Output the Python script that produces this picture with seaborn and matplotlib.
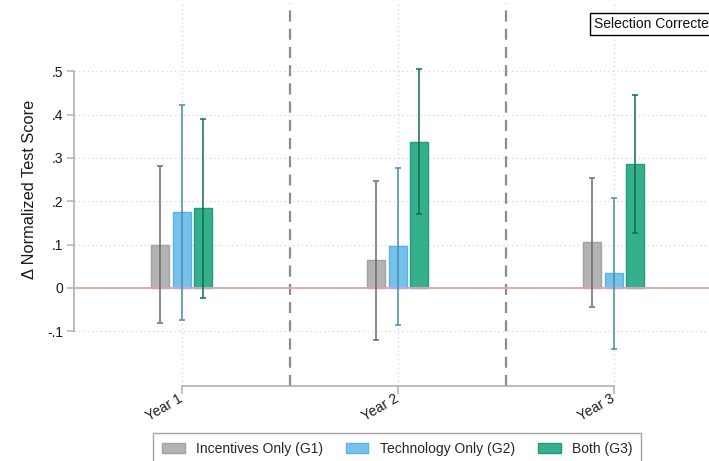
import matplotlib
matplotlib.use("Agg")
import matplotlib.pyplot as plt
import pandas as pd
import seaborn as sns

# Treatment effects on normalized test scores, by year and treatment arm
years = ["Year 1", "Year 2", "Year 3"]
groups = ["Incentives Only (G1)", "Technology Only (G2)", "Both (G3)"]

g1_effect = [0.100, 0.064, 0.105]
g2_effect = [0.175, 0.097, 0.034]
g3_effect = [0.184, 0.338, 0.287]

g1_ci_low = [-0.080, -0.121, -0.043]
g1_ci_high = [0.282, 0.247, 0.253]
g2_ci_low = [-0.075, -0.085, -0.141]
g2_ci_high = [0.422, 0.277, 0.207]
g3_ci_low = [-0.024, 0.170, 0.127]
g3_ci_high = [0.390, 0.505, 0.446]

y_ticks = [-0.1, 0.0, 0.1, 0.2, 0.3, 0.4, 0.5]
y_tick_labels = ["-.1", "0", ".1", ".2", ".3", ".4", ".5"]

bar_fill = ["#b3b3b3", "#76c2ec", "#35b08c"]
bar_edge = ["#a3a3a3", "#5cb3e3", "#229c78"]
err_color = ["#6a6a6a", "#4a8bb0", "#0e6e4d"]

rows = []
for grp, eff, lo, hi in zip(
    groups,
    [g1_effect, g2_effect, g3_effect],
    [g1_ci_low, g2_ci_low, g3_ci_low],
    [g1_ci_high, g2_ci_high, g3_ci_high],
):
    for yr, e, l, h in zip(years, eff, lo, hi):
        rows.append({"year": yr, "group": grp, "effect": e, "lo": l, "hi": h})
df = pd.DataFrame(rows)

sns.set_theme(style="white")
plt.rcParams["font.family"] = ["Liberation Sans", "DejaVu Sans"]

W, H = 709, 461
fig = plt.figure(figsize=(W / 100, H / 100), dpi=100)
left_px, right_px = 73.7, 721.7
top_px, bottom_px = 3.0, 385.7
ax = fig.add_axes([left_px / W, 1 - bottom_px / H,
                   (right_px - left_px) / W, (bottom_px - top_px) / H])

sns.barplot(
    data=df, x="year", y="effect", hue="group",
    order=years, hue_order=groups, palette=bar_fill,
    width=0.3, gap=0.15, saturation=1, errorbar=None,
    linewidth=1.0, ax=ax, zorder=3,
)

# edge colours and confidence intervals per treatment arm
bar_containers = list(ax.containers)
for i, cont in enumerate(bar_containers):
    xs, mids, lows, highs = [], [], [], []
    sub = df[df["group"] == groups[i]].set_index("year").loc[years]
    for patch, (_, r) in zip(cont.patches, sub.iterrows()):
        patch.set_edgecolor(bar_edge[i])
        xs.append(patch.get_x() + patch.get_width() / 2)
        mids.append(r["effect"])
        lows.append(r["effect"] - r["lo"])
        highs.append(r["hi"] - r["effect"])
    ax.errorbar(xs, mids, yerr=[lows, highs], fmt="none",
                ecolor=err_color[i], elinewidth=1.1, capsize=2.3,
                capthick=1.1, zorder=5)

ax.set_xlim(-0.5, 2.5)
ax.set_ylim(-0.2255, 0.6577)

# zero reference line and year separators
ax.axhline(0, color="#dca2c8", lw=1.3, zorder=4)
for xsep in (0.5, 1.5):
    ax.axvline(xsep, color="#8c8c8c", lw=1.6, ls=(0, (5, 3.2)), zorder=2)

# dotted grid
for yt in y_ticks:
    ax.axhline(yt, color="#d4d4d4", lw=0.9, ls=(0, (1, 2.5)), zorder=1)
for xt in range(len(years)):
    ax.axvline(xt, color="#d4d4d4", lw=0.9, ls=(0, (1, 2.5)), zorder=1)

ax.set_yticks(y_ticks)
ax.set_yticklabels(y_tick_labels, fontsize=10, color="#1a1a1a")
ax.set_xticks(range(len(years)))
ax.set_xticklabels(years, fontsize=10, color="#1a1a1a", rotation=30,
                   ha="right", va="center", rotation_mode="anchor")

for s in ("top", "right"):
    ax.spines[s].set_visible(False)
for s in ("left", "bottom"):
    ax.spines[s].set_color("#b0b0b0")
    ax.spines[s].set_linewidth(1.2)
ax.spines["left"].set_bounds(-0.1, 0.5)
ax.spines["bottom"].set_bounds(0, 2)

ax.tick_params(axis="y", direction="out", length=4.8, width=1.1,
               color="#b0b0b0", pad=2.5, left=True)
ax.tick_params(axis="x", direction="out", length=6, width=1.1,
               color="#b0b0b0", pad=2.5, bottom=True)

ax.set_xlabel("")
ax.set_ylabel("\u0394 Normalized Test Score", fontsize=11.8, color="#1a1a1a")
ax.yaxis.set_label_coords(-0.056, 0.512)

# legend along the bottom
handles, labels = ax.get_legend_handles_labels()
ax.get_legend().remove()
for h, ec in zip(handles, bar_edge):
    h.set_edgecolor(ec)
leg = fig.legend(
    handles, labels, ncol=3, loc="upper left",
    bbox_to_anchor=(153.3 / W, 1 - 433.3 / H), bbox_transform=fig.transFigure,
    fontsize=10, frameon=True, fancybox=False, edgecolor="#8f8f8f",
    handlelength=1.65, handleheight=0.75, handletextpad=0.8,
    columnspacing=1.65, borderpad=0.6, borderaxespad=0,
)
leg.get_frame().set_linewidth(1.0)

# boxed annotation in the upper right
fig.text(594 / W, 1 - 24.3 / H, "Selection Corrected", fontsize=10,
         ha="left", va="center", color="#111111",
         bbox=dict(boxstyle="square,pad=0.3", fc="white", ec="black", lw=1.0))

fig.savefig("out.png", dpi=100)
